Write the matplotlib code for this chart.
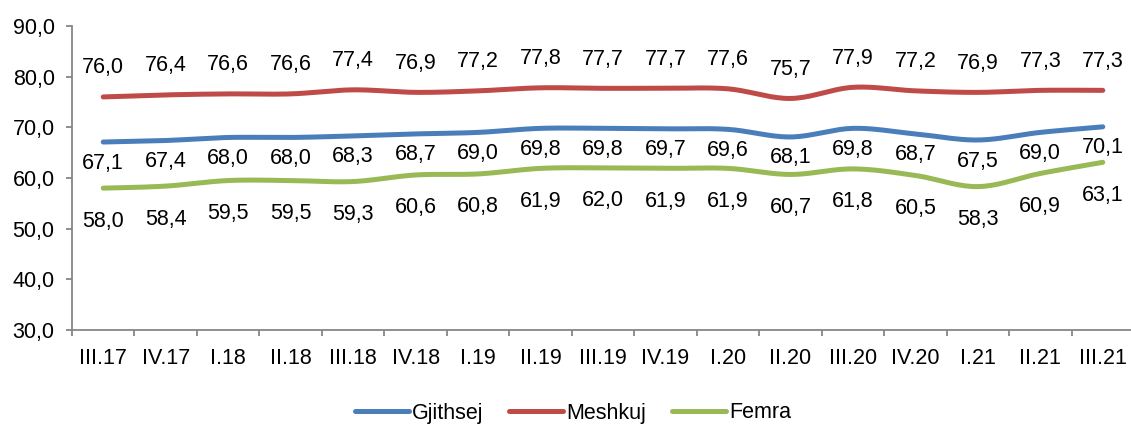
import numpy as np
import matplotlib
matplotlib.use("Agg")
import matplotlib.pyplot as plt
from matplotlib.transforms import offset_copy

plt.rcParams['font.family'] = ['Liberation Sans', 'DejaVu Sans']

categories = ["III.17", "IV.17", "I.18", "II.18", "III.18", "IV.18", "I.19", "II.19",
              "III.19", "IV.19", "I.20", "II.20", "III.20", "IV.20", "I.21", "II.21", "III.21"]
gjithsej = [67.1, 67.4, 68.0, 68.0, 68.3, 68.7, 69.0, 69.8, 69.8, 69.7, 69.6, 68.1, 69.8, 68.7, 67.5, 69.0, 70.1]
meshkuj = [76.0, 76.4, 76.6, 76.6, 77.4, 76.9, 77.2, 77.8, 77.7, 77.7, 77.6, 75.7, 77.9, 77.2, 76.9, 77.3, 77.3]
femra = [58.0, 58.4, 59.5, 59.5, 59.3, 60.6, 60.8, 61.9, 62.0, 61.9, 61.9, 60.7, 61.8, 60.5, 58.3, 60.9, 63.1]
series_names = ["Gjithsej", "Meshkuj", "Femra"]
yticks = [30, 40, 50, 60, 70, 80, 90]

colors = ["#4A7EBB", "#BE4B48", "#98B954"]
label_offsets_px = [-21, 29, -33]  # vertical offset of value labels (pixels)


def smooth(x, y, n=20):
    """Excel-like smoothed line: cubic Bezier through the points (Catmull-Rom)."""
    x = np.asarray(x, float)
    y = np.asarray(y, float)
    px = np.concatenate([[x[0]], x, [x[-1]]])
    py = np.concatenate([[y[0]], y, [y[-1]]])
    xs, ys = [], []
    t = np.linspace(0, 1, n)
    for i in range(1, len(px) - 2):
        p0 = np.array([px[i], py[i]])
        p3 = np.array([px[i + 1], py[i + 1]])
        c1 = p0 + (np.array([px[i + 1], py[i + 1]]) - np.array([px[i - 1], py[i - 1]])) / 6
        c2 = p3 - (np.array([px[i + 2], py[i + 2]]) - np.array([px[i], py[i]])) / 6
        b = ((1 - t) ** 3)[:, None] * p0 + (3 * (1 - t) ** 2 * t)[:, None] * c1 + \
            (3 * (1 - t) * t ** 2)[:, None] * c2 + (t ** 3)[:, None] * p3
        xs.append(b[:, 0])
        ys.append(b[:, 1])
    return np.concatenate(xs), np.concatenate(ys)


W, H = 1131, 424
fig = plt.figure(figsize=(W / 100, H / 100), dpi=100)
ax = fig.add_axes([72 / W, (H - 330) / H, (1134 - 72) / W, (330 - 26) / H])

x = np.arange(len(categories))
fs = 15.5
for vals, col, name, off in zip([gjithsej, meshkuj, femra], colors, series_names, label_offsets_px):
    sx, sy = smooth(x, vals)
    ax.plot(sx, sy, color=col, lw=3.6, solid_capstyle='round', label=name, clip_on=False)
    tr = offset_copy(ax.transData, fig=fig, x=0, y=off * 0.72, units='points')
    for xi, v in zip(x, vals):
        ax.text(xi, v, f"{v:.1f}".replace(".", ","), transform=tr, ha='center', va='center',
                fontsize=fs, color='black')

ax.set_xlim(-0.5, len(categories) - 0.5)
ax.set_ylim(30, 90)
ax.set_yticks(yticks)
ax.set_yticklabels([f"{v:.1f}".replace(".", ",") for v in yticks], fontsize=fs)
ax.set_xticks(x)
ax.set_xticklabels(categories, fontsize=fs)
ax.set_xticks(np.arange(-0.5, len(categories) - 0.4, 1), minor=True)
ax.tick_params(axis='x', which='major', length=0, pad=13)
ax.tick_params(axis='x', which='minor', length=4.5, color='#868686', width=1.3)
ax.tick_params(axis='y', length=4.5, color='#868686', width=1.3, pad=8)
for s in ['top', 'right']:
    ax.spines[s].set_visible(False)
for s in ['left', 'bottom']:
    ax.spines[s].set_color('#868686')
    ax.spines[s].set_linewidth(1.3)

fig.legend(loc='center', bbox_to_anchor=(573 / W, (H - 413) / H), ncol=3, frameon=False,
           fontsize=fs, handlelength=2.5, handletextpad=0.15, columnspacing=1.2)

fig.savefig("out.png", dpi=100)
